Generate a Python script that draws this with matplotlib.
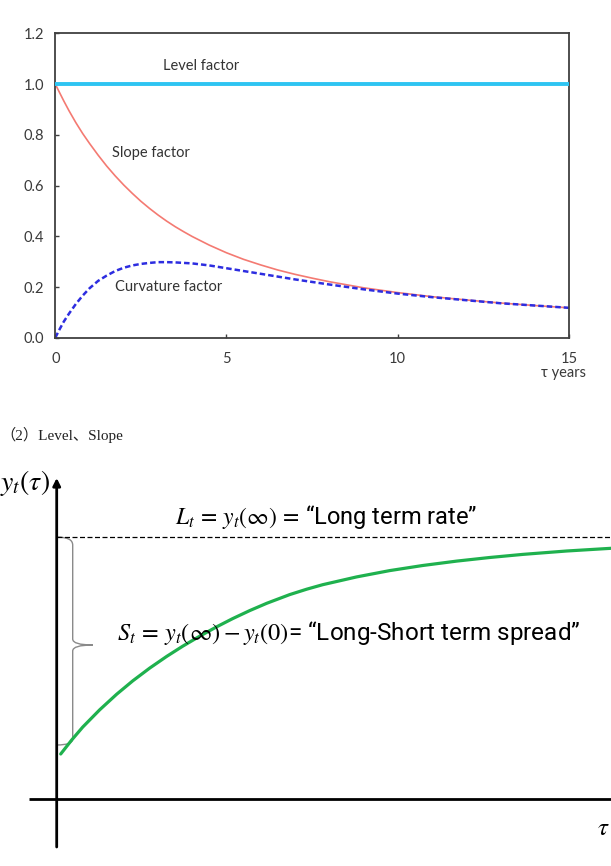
import numpy as np
import matplotlib.pyplot as plt
from matplotlib.path import Path
from matplotlib.patches import PathPatch

plt.rcParams['mathtext.fontset'] = 'stix'

# ---- top panel: Nelson-Siegel factor loadings
tau = [0, 0.1, 0.25, 0.4, 0.6, 0.8, 1, 1.25, 1.5, 1.75, 2, 2.25, 2.5, 2.75, 3, 3.25,
       3.5, 3.75, 4, 4.5, 5, 5.5, 6, 6.5, 7, 7.5, 8, 9, 10, 11, 12, 13, 14, 15]
level = [1.0] * len(tau)
slope = [1.0, 0.973, 0.933, 0.895, 0.848, 0.805, 0.766, 0.720, 0.677, 0.638, 0.602,
         0.569, 0.538, 0.510, 0.484, 0.460, 0.438, 0.418, 0.399, 0.365, 0.335,
         0.309, 0.287, 0.267, 0.250, 0.235, 0.221, 0.197, 0.178, 0.162, 0.149,
         0.137, 0.127, 0.118]
curvature = [0.0, 0.027, 0.064, 0.095, 0.133, 0.166, 0.195, 0.224, 0.245, 0.263,
             0.276, 0.285, 0.291, 0.295, 0.298, 0.298, 0.297, 0.295, 0.293, 0.285,
             0.274, 0.263, 0.252, 0.241, 0.230, 0.220, 0.210, 0.191, 0.174, 0.160,
             0.148, 0.136, 0.127, 0.118]
x_ticks = [0, 5, 10, 15]
y_ticks = [0.0, 0.2, 0.4, 0.6, 0.8, 1.0, 1.2]

# ---- bottom panel: schematic yield curve (sketch units, origin at the axes cross)
curve_x = [4, 15, 26, 43, 60, 76, 93, 110, 126, 143, 160, 176, 193, 210, 233, 250,
           266, 300, 333, 366, 400, 433, 466, 510, 556]
curve_y = [45.0, 59.0, 71.9, 89.2, 104.8, 118.1, 130.9, 142.6, 152.8, 162.8, 172.2,
           180.4, 188.4, 195.7, 204.4, 209.8, 214.3, 222.1, 228.4, 233.5, 237.9,
           241.5, 244.6, 248.0, 250.8]
long_rate = 262      # dashed asymptote
brace_bottom = 54
brace_mid = 154

fig = plt.figure(figsize=(6.11, 8.66), dpi=100)

ax = fig.add_axes([0.0905, 0.610, 0.8405, 0.3515])
ax.plot(tau, level, color='#2ec4f2', lw=2.8, solid_capstyle='butt', zorder=3)
ax.plot(tau, slope, color='#f47a72', lw=1.2)
ax.plot(tau, curvature, color='#2d2de0', lw=1.8, ls=(0, (2.2, 1.2)))
ax.set_xlim(0, 15)
ax.set_ylim(0, 1.2)
ax.set_xticks(x_ticks)
ax.set_yticks(y_ticks)
ax.set_yticklabels([f'{v:.1f}' for v in y_ticks])
ax.tick_params(direction='in', length=3, width=1, colors='#404040',
               labelsize=10.5, labelcolor='#3a3a3a')
ax.tick_params(axis='x', pad=10)
ax.tick_params(axis='y', pad=8)
for lab in ax.get_xticklabels() + ax.get_yticklabels():
    lab.set_fontfamily('Lato')
for sp in ax.spines.values():
    sp.set_color('#404040')
    sp.set_linewidth(1.3)

lbl = dict(fontsize=10.5, family='Lato', color='#333333', ha='center', va='center')
ax.text(4.26, 1.07, 'Level factor', **lbl)
ax.text(2.78, 0.729, 'Slope factor', **lbl)
ax.text(3.31, 0.20, 'Curvature factor', **lbl)
ax.annotate('τ years', xy=(14.85, -0.115), xycoords=('data', 'axes fraction'),
            ha='center', va='center', fontsize=10.5, family='Lato',
            color='#3a3a3a', annotation_clip=False)

fig.text(0.0, 1 - 435 / 866, '（2）Level、Slope', fontsize=11, va='center', ha='left',
         family=['Liberation Serif', 'Noto Sans CJK SC'], color='#222222')

# ---- bottom panel
bx = fig.add_axes([0, 0, 1, 0.5])
bx.set_xlim(-56.7, 554.3)
bx.set_ylim(-67, 366)
bx.axis('off')

bx.plot([-28, 554.3], [0, 0], color='black', lw=2, solid_capstyle='butt')
bx.annotate('', xy=(0, 321), xytext=(0, -48),
            arrowprops=dict(arrowstyle='-|>', lw=2, color='black', mutation_scale=11,
                            shrinkA=0, shrinkB=0))
bx.plot([0, 554.3], [long_rate, long_rate], color='black', lw=0.9, ls=(0, (4, 2)))
bx.plot(curve_x, curve_y, color='#1fb14e', lw=2.3, solid_capstyle='round',
        solid_joinstyle='round')

xb, xt = 16, 36
verts = [(0, long_rate), (xb, long_rate), (xb, long_rate - 8),
         (xb, brace_mid + 6),
         (xb, brace_mid), (xt, brace_mid),
         (xb, brace_mid), (xb, brace_mid - 6),
         (xb, brace_bottom + 6),
         (xb, brace_bottom), (0, brace_bottom)]
codes = [Path.MOVETO, Path.CURVE3, Path.CURVE3, Path.LINETO,
         Path.CURVE3, Path.CURVE3, Path.CURVE3, Path.CURVE3,
         Path.LINETO, Path.CURVE3, Path.CURVE3]
bx.add_patch(PathPatch(Path(verts, codes), fill=False, ec='#8a8a8a', lw=1.0))

bx.text(-57, 316, r'$y_t(\tau)$', fontsize=20, ha='left', va='center')
bx.text(553, -29, r'$\tau$', fontsize=18, ha='right', va='center')
bx.text(118, 282, r'$L_t\,=\,y_t(\infty)\,=\,$“Long term rate”', fontsize=17,
        family='Roboto', ha='left', va='center')
bx.text(60, 166, r'$S_t\,=\,y_t(\infty)-y_t(0)$= “Long-Short term spread”', fontsize=17.5,
        family='Roboto', ha='left', va='center')

fig.savefig('out.png', dpi=100)
